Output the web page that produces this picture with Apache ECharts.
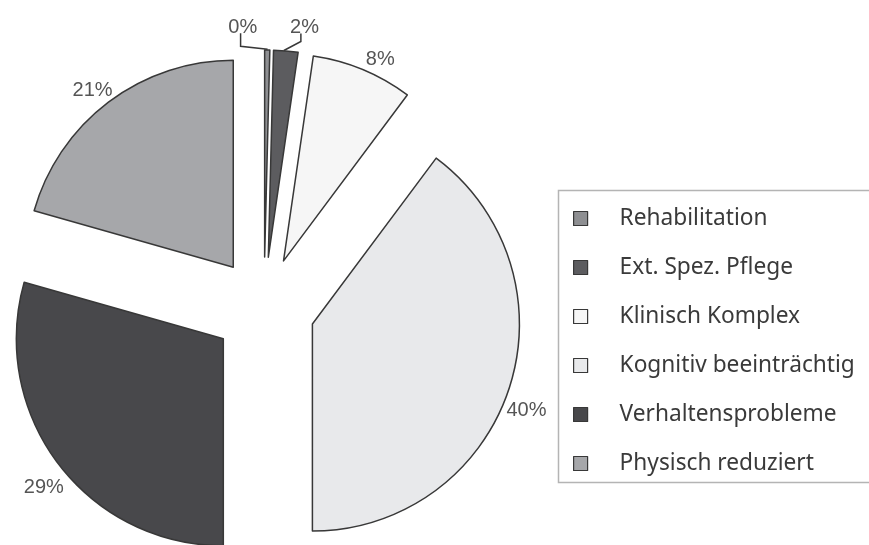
<!DOCTYPE html>
<html>
<head>
<meta charset="utf-8">
<script src="https://cdn.jsdelivr.net/npm/echarts@6/dist/echarts.min.js"></script>
<style>
  html, body { margin: 0; padding: 0; background: #ffffff; }
  #chart { width: 869px; height: 545px; }
</style>
</head>
<body>
<div id="chart"></div>
<script>
// Care groups and their share of residents (percent)
const categories = [
  'Rehabilitation',
  'Ext. Spez. Pflege',
  'Klinisch Komplex',
  'Kognitiv beeinträchtig',
  'Verhaltensprobleme',
  'Physisch reduziert'
];
const shares = [0.4, 1.9, 7.9, 39.8, 29.4, 20.6];

// Fill colours per group
const sliceColors = ['#8e8f92', '#5c5c5f', '#f6f6f6', '#e8e9eb', '#48484b', '#a6a7aa'];

// Offsets (px) applied to the outside labels
const labelShift = [[-39, -14.5], [3.5, -15.5], [0, -3], [-10, 19], [12, 19], [9, -5]];

const chart = echarts.init(document.getElementById('chart'), null, { renderer: 'canvas' });

const pieData = categories.map((name, i) => ({
  name: name,
  value: shares[i],
  selected: true,
  itemStyle: { color: sliceColors[i] },
  labelLine: { show: i < 2 }
}));

chart.setOption({
  animation: false,
  backgroundColor: '#ffffff',
  legend: {
    orient: 'vertical',
    left: 568,
    top: 202,
    icon: 'rect',
    itemWidth: 14,
    itemHeight: 14,
    itemGap: 26,
    selectedMode: false,
    data: categories,
    itemStyle: { borderColor: '#383838', borderWidth: 1.2 },
    textStyle: {
      fontFamily: 'Noto Sans',
      fontSize: 22.7,
      color: '#3a3a3a',
      padding: [0, 0, 0, 27]
    }
  },
  graphic: [{
    type: 'rect',
    left: 556,
    top: 188,
    shape: { width: 312, height: 292 },
    style: { fill: 'none', stroke: '#b4b4b4', lineWidth: 1.5 },
    silent: true
  }],
  series: [{
    type: 'pie',
    center: [264, 308],
    radius: 207,
    startAngle: 90,
    clockwise: true,
    selectedMode: 'multiple',
    selectedOffset: 51,
    avoidLabelOverlap: false,
    emphasis: { disabled: true },
    itemStyle: { borderColor: '#383838', borderWidth: 1.5 },
    label: {
      show: true,
      position: 'outside',
      fontFamily: 'Liberation Sans',
      fontSize: 20,
      color: '#555555',
      distanceToLabelLine: 0,
      formatter: p => Math.round(p.percent) + '%'
    },
    labelLine: {
      length: 8,
      length2: 0,
      lineStyle: { color: '#383838', width: 1.5 }
    },
    labelLayout: function (p) {
      const i = p.dataIndex;
      const r = p.rect;
      const top = r.y;
      const right = r.x + r.width;
      const out = { dx: labelShift[i][0], dy: labelShift[i][1] };
      if (i === 0) {
        out.labelLinePoints = [[right - 3, top], [right - 30, top - 3], [right - 30, top - 16]];
      } else if (i === 1) {
        out.labelLinePoints = [[right - 15, top + 1], [right + 2, top - 8], [right + 2, top - 16]];
      }
      return out;
    },
    data: pieData
  }]
});
</script>
</body>
</html>
